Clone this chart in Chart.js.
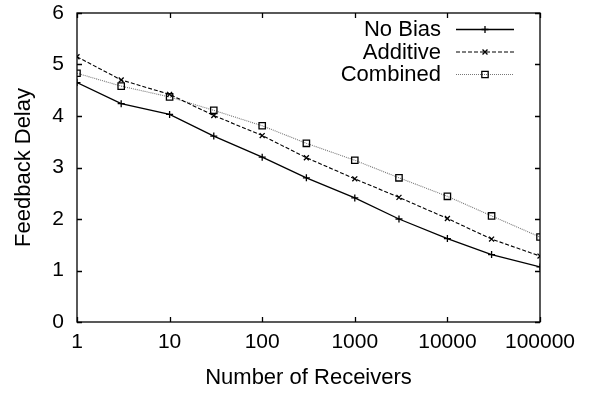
<!DOCTYPE html>
<html>
<head>
<meta charset="utf-8">
<script src="https://cdn.jsdelivr.net/npm/chart.js@4/dist/chart.umd.min.js"></script>
<style>
  html, body { margin: 0; padding: 0; background: #fff; }
  #wrap { width: 590px; height: 396px; }
</style>
</head>
<body>
<div id="wrap"><canvas id="canvas" width="590" height="396"></canvas></div>
<script>
// Receivers (log axis) and feedback delay per scheme
var receivers = [1, 3, 10, 30, 100, 300, 1000, 3000, 10000, 30000, 100000];
var noBias   = [4.65, 4.24, 4.03, 3.61, 3.20, 2.80, 2.41, 2.00, 1.62, 1.31, 1.07];
var additive = [5.15, 4.70, 4.42, 4.01, 3.62, 3.19, 2.78, 2.42, 2.01, 1.61, 1.28];
var combined = [4.83, 4.58, 4.37, 4.11, 3.81, 3.47, 3.14, 2.80, 2.44, 2.06, 1.65];

var xTicks = [1, 10, 100, 1000, 10000, 100000];
var xTickLabels = ['1', '10', '100', '1000', '10000', '100000'];
var yTicks = [0, 1, 2, 3, 4, 5, 6];

var FONT = 'Liberation Sans, Arial, Helvetica, sans-serif';

function toPoints(ys) {
  return receivers.map(function (x, i) { return { x: x, y: ys[i] }; });
}

// gnuplot-like frame with inward ticks on all four sides
var framePlugin = {
  id: 'frame',
  afterDatasetsDraw: function (chart) {
    var ctx = chart.ctx, a = chart.chartArea;
    var xs = chart.scales.x, ys = chart.scales.y;
    var len = 5;
    ctx.save();
    ctx.strokeStyle = '#000';
    ctx.lineWidth = 1.3;
    ctx.strokeRect(a.left, a.top, a.right - a.left, a.bottom - a.top);
    ctx.beginPath();
    xTicks.forEach(function (v) {
      var px = Math.round(xs.getPixelForValue(v)) + 0.5;
      ctx.moveTo(px, a.bottom); ctx.lineTo(px, a.bottom - len);
      ctx.moveTo(px, a.top); ctx.lineTo(px, a.top + len);
    });
    yTicks.forEach(function (v) {
      var py = Math.round(ys.getPixelForValue(v)) + 0.5;
      ctx.moveTo(a.left, py); ctx.lineTo(a.left + len, py);
      ctx.moveTo(a.right, py); ctx.lineTo(a.right - len, py);
    });
    ctx.stroke();
    ctx.restore();
  }
};

// key in the top right: label, then a line sample with its marker
var keyPlugin = {
  id: 'key',
  afterDraw: function (chart) {
    var ctx = chart.ctx;
    var textRight = 441, lineL = 456, lineR = 514, rowY = 29, rowGap = 22.5;
    ctx.save();
    ctx.font = '22px ' + FONT;
    ctx.textAlign = 'right';
    ctx.textBaseline = 'middle';
    chart.data.datasets.forEach(function (ds, i) {
      var y = rowY + i * rowGap;
      ctx.fillStyle = '#000';
      ctx.fillText(ds.label, textRight, y + 1);
      ctx.beginPath();
      ctx.setLineDash(ds.borderDash || []);
      ctx.strokeStyle = ds.borderColor;
      ctx.lineWidth = ds.borderWidth;
      ctx.moveTo(lineL, y + 0.5);
      ctx.lineTo(lineR, y + 0.5);
      ctx.stroke();
      ctx.setLineDash([]);
      ctx.strokeStyle = ds.pointBorderColor;
      ctx.fillStyle = 'rgba(0,0,0,0)';
      ctx.lineWidth = ds.pointBorderWidth;
      Chart.helpers.drawPoint(ctx, {
        pointStyle: ds.pointStyle,
        radius: ds.pointRadius,
        rotation: 0,
        borderWidth: ds.pointBorderWidth
      }, (lineL + lineR) / 2, y + 0.5);
    });
    ctx.restore();
  }
};

var ctx = document.getElementById('canvas').getContext('2d');
var chart = new Chart(ctx, {
  type: 'line',
  data: {
    datasets: [{
      label: 'No Bias',
      data: toPoints(noBias),
      borderColor: '#000',
      borderWidth: 1.3,
      pointStyle: 'cross',
      pointRadius: 3.5,
      pointBorderColor: '#000',
      pointBorderWidth: 1.3,
      pointBackgroundColor: 'rgba(0,0,0,0)'
    }, {
      label: 'Additive',
      data: toPoints(additive),
      borderColor: '#000',
      borderWidth: 1.1,
      borderDash: [4, 2],
      pointStyle: 'crossRot',
      pointRadius: 3.5,
      pointBorderColor: '#000',
      pointBorderWidth: 1.3,
      pointBackgroundColor: 'rgba(0,0,0,0)'
    }, {
      label: 'Combined',
      data: toPoints(combined),
      borderColor: '#777',
      borderWidth: 1.1,
      borderDash: [1, 1],
      pointStyle: 'rect',
      pointRadius: 4.5,
      pointBorderColor: '#000',
      pointBorderWidth: 1.3,
      pointBackgroundColor: 'rgba(0,0,0,0)'
    }]
  },
  options: {
    responsive: false,
    animation: false,
    devicePixelRatio: 1,
    layout: { padding: { top: 13, right: 50, left: 0, bottom: 0 } },
    plugins: {
      legend: { display: false },
      tooltip: { enabled: false }
    },
    scales: {
      x: {
        type: 'logarithmic',
        min: 1,
        max: 100000,
        afterBuildTicks: function (scale) {
          scale.ticks = xTicks.map(function (v) { return { value: v }; });
        },
        afterFit: function (scale) { scale.height = 74; },
        ticks: {
          color: '#000',
          font: { family: FONT, size: 21 },
          padding: 8,
          maxRotation: 0,
          autoSkip: false,
          callback: function (v) {
            var i = xTicks.indexOf(v);
            return i >= 0 ? xTickLabels[i] : '';
          }
        },
        grid: { display: false, drawTicks: false },
        border: { display: false },
        title: {
          display: true,
          text: 'Number of Receivers',
          color: '#000',
          font: { family: FONT, size: 22 },
          padding: { top: 0, bottom: 5 }
        }
      },
      y: {
        min: 0,
        max: 6,
        afterBuildTicks: function (scale) {
          scale.ticks = yTicks.map(function (v) { return { value: v }; });
        },
        afterFit: function (scale) {
          scale.width = 77;
          scale.paddingTop = 0;
          scale.paddingBottom = 0;
        },
        ticks: {
          color: '#000',
          font: { family: FONT, size: 21 },
          padding: 13
        },
        grid: { display: false, drawTicks: false },
        border: { display: false },
        title: {
          display: true,
          text: 'Feedback Delay',
          color: '#000',
          font: { family: FONT, size: 22 },
          padding: { top: 11, bottom: 0 }
        }
      }
    }
  },
  plugins: [framePlugin, keyPlugin]
});
</script>
</body>
</html>
